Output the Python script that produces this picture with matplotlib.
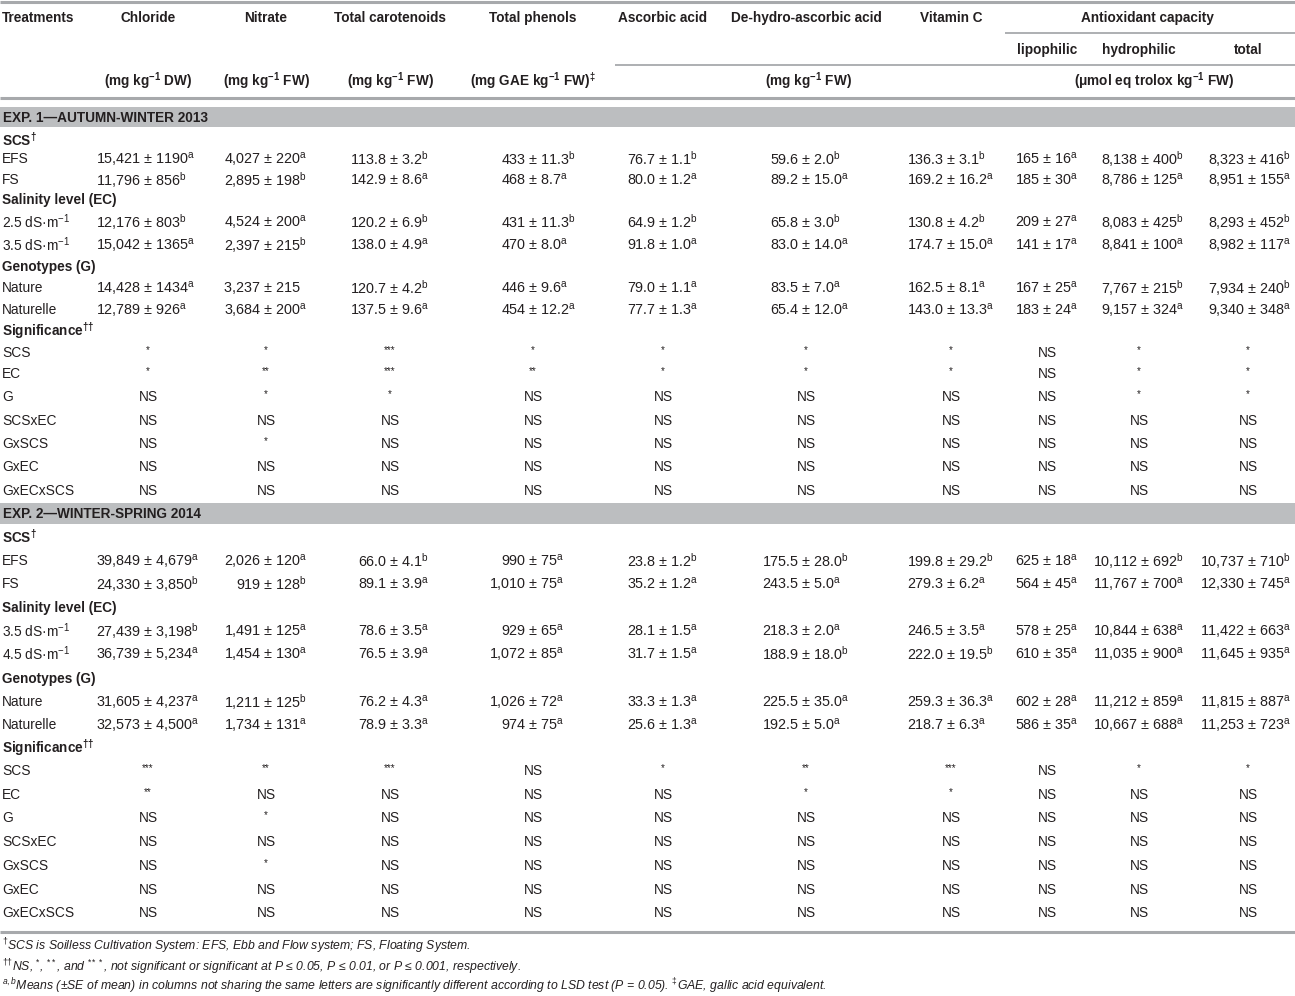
import matplotlib
matplotlib.use("Agg")
import matplotlib.pyplot as plt
from matplotlib.patches import Rectangle

plt.rcParams['font.family'] = ['Liberation Sans', 'DejaVu Sans']
plt.rcParams['mathtext.fontset'] = 'custom'
plt.rcParams['mathtext.rm'] = 'Liberation Sans'
plt.rcParams['mathtext.it'] = 'Liberation Sans:italic'
plt.rcParams['mathtext.bf'] = 'Liberation Sans:bold'

# ---------------- data ----------------
columns = ["Chloride", "Nitrate", "Total carotenoids", "Total phenols", "Ascorbic acid",
           "De-hydro-ascorbic acid", "Vitamin C"]
antiox_sub = ["lipophilic", "hydrophilic", "total"]

exp1_title = "EXP. 1\u2014AUTUMN-WINTER 2013"
exp2_title = "EXP. 2\u2014WINTER-SPRING 2014"

# each cell: "mean|se|letter"
exp1_efs = ["15,421|1190|a", "4,027|220|a", "113.8|3.2|b", "433|11.3|b", "76.7|1.1|b",
            "59.6|2.0|b", "136.3|3.1|b", "165|16|a", "8,138|400|b", "8,323|416|b"]
exp1_fs = ["11,796|856|b", "2,895|198|b", "142.9|8.6|a", "468|8.7|a", "80.0|1.2|a",
           "89.2|15.0|a", "169.2|16.2|a", "185|30|a", "8,786|125|a", "8,951|155|a"]
exp1_ec_low = ["12,176|803|b", "4,524|200|a", "120.2|6.9|b", "431|11.3|b", "64.9|1.2|b",
               "65.8|3.0|b", "130.8|4.2|b", "209|27|a", "8,083|425|b", "8,293|452|b"]
exp1_ec_high = ["15,042|1365|a", "2,397|215|b", "138.0|4.9|a", "470|8.0|a", "91.8|1.0|a",
                "83.0|14.0|a", "174.7|15.0|a", "141|17|a", "8,841|100|a", "8,982|117|a"]
exp1_nature = ["14,428|1434|a", "3,237|215|", "120.7|4.2|b", "446|9.6|a", "79.0|1.1|a",
               "83.5|7.0|a", "162.5|8.1|a", "167|25|a", "7,767|215|b", "7,934|240|b"]
exp1_naturelle = ["12,789|926|a", "3,684|200|a", "137.5|9.6|a", "454|12.2|a", "77.7|1.3|a",
                  "65.4|12.0|a", "143.0|13.3|a", "183|24|a", "9,157|324|a", "9,340|348|a"]

exp2_efs = ["39,849|4,679|a", "2,026|120|a", "66.0|4.1|b", "990|75|a", "23.8|1.2|b",
            "175.5|28.0|b", "199.8|29.2|b", "625|18|a", "10,112|692|b", "10,737|710|b"]
exp2_fs = ["24,330|3,850|b", "919|128|b", "89.1|3.9|a", "1,010|75|a", "35.2|1.2|a",
           "243.5|5.0|a", "279.3|6.2|a", "564|45|a", "11,767|700|a", "12,330|745|a"]
exp2_ec_low = ["27,439|3,198|b", "1,491|125|a", "78.6|3.5|a", "929|65|a", "28.1|1.5|a",
               "218.3|2.0|a", "246.5|3.5|a", "578|25|a", "10,844|638|a", "11,422|663|a"]
exp2_ec_high = ["36,739|5,234|a", "1,454|130|a", "76.5|3.9|a", "1,072|85|a", "31.7|1.5|a",
                "188.9|18.0|b", "222.0|19.5|b", "610|35|a", "11,035|900|a", "11,645|935|a"]
exp2_nature = ["31,605|4,237|a", "1,211|125|b", "76.2|4.3|a", "1,026|72|a", "33.3|1.3|a",
               "225.5|35.0|a", "259.3|36.3|a", "602|28|a", "11,212|859|a", "11,815|887|a"]
exp2_naturelle = ["32,573|4,500|a", "1,734|131|a", "78.9|3.3|a", "974|75|a", "25.6|1.3|a",
                  "192.5|5.0|a", "218.7|6.3|a", "586|35|a", "10,667|688|a", "11,253|723|a"]

sig_labels = ["SCS", "EC", "G", "SCSxEC", "GxSCS", "GxEC", "GxECxSCS"]
NS10 = ["NS"] * 10
exp1_sig = [
    ["*", "*", "***", "*", "*", "*", "*", "NS", "*", "*"],
    ["*", "**", "***", "**", "*", "*", "*", "NS", "*", "*"],
    ["NS", "*", "*", "NS", "NS", "NS", "NS", "NS", "*", "*"],
    NS10,
    ["NS", "*", "NS", "NS", "NS", "NS", "NS", "NS", "NS", "NS"],
    NS10,
    NS10,
]
exp2_sig = [
    ["***", "**", "***", "NS", "*", "**", "***", "NS", "*", "*"],
    ["**", "NS", "NS", "NS", "NS", "*", "*", "NS", "NS", "NS"],
    ["NS", "*", "NS", "NS", "NS", "NS", "NS", "NS", "NS", "NS"],
    NS10,
    ["NS", "*", "NS", "NS", "NS", "NS", "NS", "NS", "NS", "NS"],
    NS10,
    NS10,
]
exp1_ec_labels = ["2.5 dS\u00b7m$^{-1}$", "3.5 dS\u00b7m$^{-1}$"]
exp2_ec_labels = ["3.5 dS\u00b7m$^{-1}$", "4.5 dS\u00b7m$^{-1}$"]

# ---------------- layout ----------------
W, H = 1295, 996
fig = plt.figure(figsize=(W / 100, H / 100), dpi=100)
ax = fig.add_axes([0, 0, 1, 1])
ax.set_xlim(0, W)
ax.set_ylim(H, 0)
ax.axis('off')
renderer = fig.canvas.get_renderer()

TXT = '#231f20'
LINE = '#a7a9ac'
BAND = '#bcbec0'
FS = 10.4     # numeric cells
LFS = 9.9     # row labels
HFS = 9.8     # bold headers

col_center = [148, 266, 390, 533, 663, 806, 951, 1047, 1139, 1248]


def text_w(s, fs=FS):
    t = ax.text(0, 0, s, fontsize=fs)
    w = t.get_window_extent(renderer).width
    t.remove()
    return w


def cell_parts(s):
    mean, se, let = s.split('|')
    sup = ("$^{\\mathrm{%s}}$" % let) if let else ""
    suffix = "\u00b1 " + se + sup
    full = mean + " " + suffix
    return full, suffix


def cell_metrics(s):
    full, suffix = cell_parts(s)
    fw = text_w(full)
    sw = text_w(suffix)
    return fw - sw, sw   # prefix width (mean + space), suffix width


all_rows = [exp1_efs, exp1_fs, exp1_ec_low, exp1_ec_high, exp1_nature, exp1_naturelle,
            exp2_efs, exp2_fs, exp2_ec_low, exp2_ec_high, exp2_nature, exp2_naturelle]
col_pm = []
for j, xc in enumerate(col_center):
    mets = [cell_metrics(r[j]) for r in all_rows]
    pw = max(m[0] for m in mets)
    sw = max(m[1] for m in mets)
    xp = xc + (pw - sw) / 2
    xp = min(xp, W - 3 - sw)
    col_pm.append(xp)


def hline(y, x0=0, x1=W, lw=1.6):
    ax.plot([x0, x1], [y, y], color=LINE, lw=lw, solid_capstyle='butt')


hline(2, lw=2.2)
hline(33, 1005, W, lw=1.3)
hline(65, 615, W, lw=1.3)
hline(98, lw=2.2)
hline(932, lw=2.2)

# header
ax.text(2, 18, "Treatments", ha='left', va='center', fontsize=HFS, fontweight='bold', color=TXT)
for c, x in zip(columns, col_center[:7]):
    ax.text(x, 18, c, ha='center', va='center', fontsize=HFS, fontweight='bold', color=TXT)
ax.text(1147, 18, "Antioxidant capacity", ha='center', va='center', fontsize=HFS,
        fontweight='bold', color=TXT)
for c, x in zip(antiox_sub, col_center[7:]):
    ax.text(x, 50, c, ha='center', va='center', fontsize=HFS, fontweight='bold', color=TXT)

units = [(148, "(mg kg$^{\\mathbf{-1}}$ DW)"), (266, "(mg kg$^{\\mathbf{-1}}$ FW)"),
         (390, "(mg kg$^{\\mathbf{-1}}$ FW)"), (533, "(mg GAE kg$^{\\mathbf{-1}}$ FW)$^{\\mathbf{\u2021}}$"),
         (808, "(mg kg$^{\\mathbf{-1}}$ FW)"), (1154, "(\u03bcmol eq trolox kg$^{\\mathbf{-1}}$ FW)")]
for x, u in units:
    ax.text(x, 81, u, ha='center', va='center', fontsize=HFS, fontweight='bold', color=TXT)


def band(y0, y1, title):
    ax.add_patch(Rectangle((0, y0), W, y1 - y0, facecolor=BAND, edgecolor='none'))
    ax.text(3, (y0 + y1) / 2 + 0.5, title, ha='left', va='center', fontsize=HFS,
            fontweight='bold', color=TXT)


def cell(x_pm, y, s):
    full, _ = cell_parts(s)
    pw, _ = cell_metrics(s)
    ax.text(x_pm - pw, y, full, ha='left', va='center', fontsize=FS, color=TXT)


def data_row(y, label, vals):
    ax.text(2, y, label, ha='left', va='center', fontsize=LFS, color=TXT)
    for xp, v in zip(col_pm, vals):
        cell(xp, y, v)


def sig_row(y, label, vals):
    ax.text(2, y, label, ha='left', va='center', fontsize=LFS, color=TXT)
    for xc, v in zip(col_center, vals):
        if v == "NS":
            ax.text(xc, y, v, ha='center', va='center', fontsize=LFS, color=TXT)
        else:
            ax.text(xc, y - 3, v, ha='center', va='center', fontsize=7, color=TXT)


def heading(y, s):
    ax.text(2, y, s, ha='left', va='center', fontsize=HFS, fontweight='bold', color=TXT)


def experiment(band_y, rows_y, sig_y, groups, ec_labels, sig):
    band(band_y[0], band_y[1], groups[0])
    heading(rows_y[0], "SCS$^{\\mathbf{\u2020}}$")
    data_row(rows_y[1], "EFS", groups[1])
    data_row(rows_y[2], "FS", groups[2])
    heading(rows_y[3], "Salinity level (EC)")
    data_row(rows_y[4], ec_labels[0], groups[3])
    data_row(rows_y[5], ec_labels[1], groups[4])
    heading(rows_y[6], "Genotypes (G)")
    data_row(rows_y[7], "Nature", groups[5])
    data_row(rows_y[8], "Naturelle", groups[6])
    heading(rows_y[9], "Significance$^{\\mathbf{\u2020\u2020}}$")
    for y, lab, vals in zip(sig_y, sig_labels, sig):
        sig_row(y, lab, vals)


experiment((107, 127), [140, 159, 180, 200, 222, 245, 267, 288, 310, 331],
           [353, 374, 397, 421, 444, 467, 491],
           [exp1_title, exp1_efs, exp1_fs, exp1_ec_low, exp1_ec_high, exp1_nature, exp1_naturelle],
           exp1_ec_labels, exp1_sig)
experiment((503, 524), [537, 561, 584, 608, 631, 654, 679, 702, 725, 748],
           [771, 795, 818, 842, 866, 890, 913],
           [exp2_title, exp2_efs, exp2_fs, exp2_ec_low, exp2_ec_high, exp2_nature, exp2_naturelle],
           exp2_ec_labels, exp2_sig)

# footnotes
FN = 8.8
ax.text(2, 946, "$^{\u2020}$SCS is Soilless Cultivation System: EFS, Ebb and Flow system; FS, Floating System.",
        ha='left', va='center', fontsize=FN, style='italic', color=TXT)
ax.text(2, 967, "$^{\u2020\u2020}$NS, $^{*}$, $^{**}$, and $^{***}$, not significant or significant at "
        "P \u2264 0.05, P \u2264 0.01, or P \u2264 0.001, respectively.",
        ha='left', va='center', fontsize=FN, style='italic', color=TXT)
ax.text(2, 986, "$^{a,b}$Means (\u00b1SE of mean) in columns not sharing the same letters are significantly "
        "different according to LSD test (P = 0.05). $^{\u2021}$GAE, gallic acid equivalent.",
        ha='left', va='center', fontsize=FN, style='italic', color=TXT)

fig.savefig("out.png", dpi=100)
